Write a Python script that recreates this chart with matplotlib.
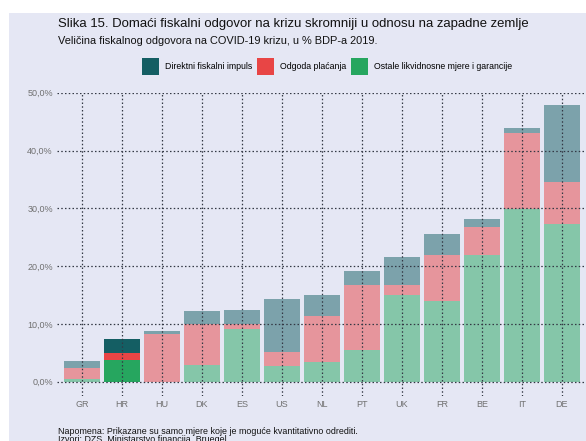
import numpy as np
import matplotlib
matplotlib.use("Agg")
from matplotlib import pyplot as plt
from matplotlib.patches import Patch, Rectangle

plt.rcParams['font.family'] = ['Liberation Sans', 'DejaVu Sans']

countries = ["GR", "HR", "HU", "DK", "ES", "US", "NL", "PT", "UK", "FR", "BE", "IT", "DE"]
ostale = [0.45, 3.8, 0.0, 2.9, 9.2, 2.7, 3.4, 5.55, 14.95, 13.95, 21.9, 29.8, 27.2]
odgoda = [1.95, 1.2, 8.25, 7.1, 0.85, 2.5, 7.9, 11.15, 1.75, 7.95, 4.8, 13.2, 7.35]
direktni = [1.2, 2.4, 0.5, 2.2, 2.35, 9.1, 3.7, 2.45, 4.9, 3.65, 1.45, 0.9, 13.35]
yticks = [0, 10, 20, 30, 40, 50]

BG = "#e5e7f4"
C_DIR = "#145e63"
C_ODG = "#e84545"
C_OST = "#26a65f"

fig = plt.figure(figsize=(5.86, 4.41), dpi=100)
fig.patches.append(Rectangle((9/586, 0), 1, 1 - 13/441, transform=fig.transFigure,
                             facecolor=BG, edgecolor="none", zorder=-10))

ax = fig.add_axes([57/586, 45/441, 529/586, 303.3/441])
ax.set_facecolor(BG)

x = np.arange(len(countries))
ost = np.array(ostale)
odg = np.array(odgoda)
drk = np.array(direktni)
alphas = [1.0 if c == "HR" else 0.5 for c in countries]

for i in range(len(countries)):
    a = alphas[i]
    ax.bar(x[i], ost[i], width=0.92, color=C_OST, alpha=a, zorder=1)
    ax.bar(x[i], odg[i], bottom=ost[i], width=0.92, color=C_ODG, alpha=a, zorder=1)
    ax.bar(x[i], drk[i], bottom=ost[i] + odg[i], width=0.92, color=C_DIR, alpha=a, zorder=1)

ax.set_xlim(-0.625, 12.6)
ax.set_ylim(-2.47, 50)
ax.set_xticks(x)
ax.set_xticklabels(countries)
ax.set_yticks(yticks)
ax.set_yticklabels(["%d,0%%" % v for v in yticks])
ax.tick_params(length=0, labelsize=6.5, labelcolor="#707070")
ax.tick_params(axis="y", pad=3)
ax.tick_params(axis="x", pad=3)
for s in ax.spines.values():
    s.set_visible(False)
ax.grid(True, linestyle=(0, (1.2, 1.8)), color="#333844", linewidth=0.9, zorder=3)
ax.set_axisbelow(False)

fig.text(58/586, 1 - 24/441, "Slika 15. Domaći fiskalni odgovor na krizu skromniji u odnosu na zapadne zemlje",
         fontsize=9.45, va="center", ha="left", color="#111111")
fig.text(58/586, 1 - 40.7/441, "Veličina fiskalnog odgovora na COVID-19 krizu, u % BDP-a 2019.",
         fontsize=7.9, va="center", ha="left", color="#111111")

handles = [Patch(facecolor=C_DIR), Patch(facecolor=C_ODG), Patch(facecolor=C_OST)]
labels = ["Direktni fiskalni impuls", "Odgoda plaćanja", "Ostale likvidnosne mjere i garancije"]
fig.legend(handles, labels, loc="center", bbox_to_anchor=(327/586, 1 - 66.5/441), ncol=3,
           frameon=False, fontsize=6.3, handlelength=1.95, handleheight=2.5,
           handletextpad=0.7, columnspacing=0.5, borderpad=0)

fig.text(58/586, 1 - 431/441, "Napomena: Prikazane su samo mjere koje je moguće kvantitativno odrediti.",
         fontsize=6.4, va="center", ha="left", color="#111111")
fig.text(58/586, 1 - 440/441, "Izvori: DZS, Ministarstvo financija, Bruegel",
         fontsize=6.4, va="center", ha="left", color="#111111")

fig.savefig("out.png", dpi=100)
